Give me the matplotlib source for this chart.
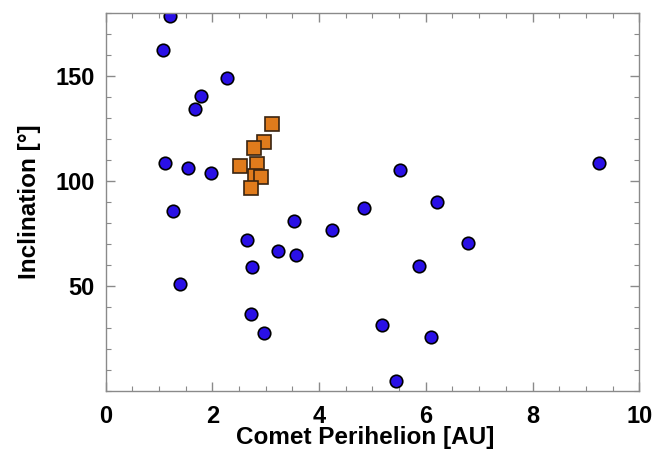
import matplotlib
matplotlib.use("Agg")
import matplotlib.pyplot as plt
from matplotlib.ticker import MultipleLocator

# comets (blue circles)
perihelion = [1.21, 1.07, 2.27, 1.78, 1.68, 1.11, 1.54, 1.97, 1.26, 1.40,
              2.65, 2.75, 2.73, 2.97, 3.23, 3.53, 3.57, 4.24, 4.84, 5.52,
              6.21, 6.79, 5.87, 5.18, 6.09, 5.44, 9.24]
inclination = [178.3, 162.1, 148.7, 140.6, 134.4, 108.5, 106.3, 103.9, 85.8, 51.1,
               71.7, 59.1, 36.5, 27.7, 66.8, 81.0, 64.9, 76.6, 86.9, 105.2,
               89.9, 70.6, 59.4, 31.5, 25.6, 4.7, 108.6]

# orange squares
sq_perihelion = [3.12, 2.96, 2.78, 2.51, 2.83, 2.80, 2.92, 2.73]
sq_inclination = [127.0, 118.5, 115.6, 107.2, 108.0, 102.5, 102.0, 96.6]

plt.rcParams['font.family'] = ['Liberation Sans', 'DejaVu Sans']
plt.rcParams['font.weight'] = 'bold'

fig = plt.figure(figsize=(6.68, 4.55), dpi=100)
ax = fig.add_axes([0.158, 0.141, 0.799, 0.831])

ax.plot(perihelion, inclination, 'o', color='#2a10e6', markeredgecolor='black',
        markeredgewidth=1.2, markersize=9, linestyle='none')
ax.plot(sq_perihelion, sq_inclination, 's', color='#e07b1c', markeredgecolor='#3a2410',
        markeredgewidth=1.2, markersize=10, linestyle='none')

ax.set_xlim(0, 10)
ax.set_ylim(0, 180)
ax.set_xticks([0, 2, 4, 6, 8, 10])
ax.set_yticks([50, 100, 150])
ax.xaxis.set_minor_locator(MultipleLocator(0.5))
ax.yaxis.set_minor_locator(MultipleLocator(10))

for s in ax.spines.values():
    s.set_color('#8a8a8a')
    s.set_linewidth(1.0)
ax.tick_params(which='both', direction='in', top=True, right=True, color='#8a8a8a')
ax.tick_params(which='major', length=6.5, width=1.0, labelsize=17)
ax.tick_params(axis='x', which='major', pad=10)
ax.tick_params(axis='y', which='major', pad=8)
ax.tick_params(which='minor', length=3.5, width=0.8)

ax.set_xlabel("Comet Perihelion [AU]", fontsize=17.5, fontweight='bold')
ax.set_ylabel("Inclination [°]", fontsize=17.5, fontweight='bold')
ax.xaxis.set_label_coords(0.486, -0.093)
ax.yaxis.set_label_coords(-0.121, 0.5)

fig.savefig("out.png", dpi=100)
